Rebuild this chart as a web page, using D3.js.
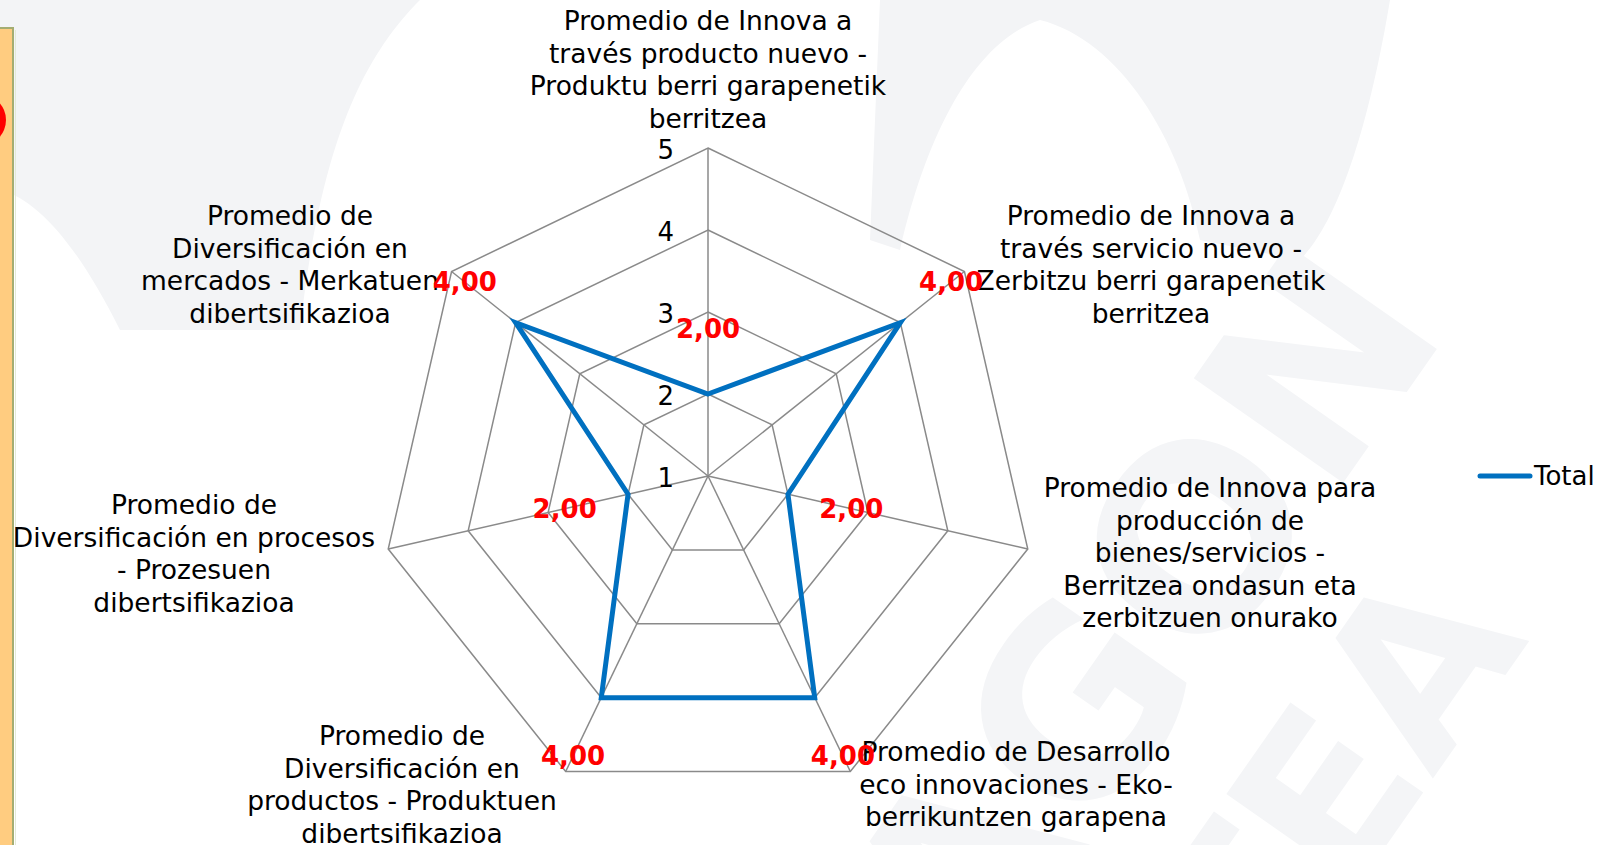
<!DOCTYPE html>
<html>
<head>
<meta charset="utf-8">
<script src="https://cdn.jsdelivr.net/npm/d3@7"></script>
<style>
  html, body { margin: 0; padding: 0; background: #fff; overflow: hidden; }
  svg { display: block; font-family: "DejaVu Sans", Verdana, sans-serif; }
</style>
</head>
<body>
<svg id="chart" width="1618" height="845"></svg>
<script>
/************************* Data *************************/
const categories = [
  ["Promedio de Innova a", "través producto nuevo -", "Produktu berri garapenetik", "berritzea"],
  ["Promedio de Innova a", "través servicio nuevo -", "Zerbitzu berri garapenetik", "berritzea"],
  ["Promedio de Innova para", "producción de", "bienes/servicios -", "Berritzea ondasun eta", "zerbitzuen onurako"],
  ["Promedio de Desarrollo", "eco innovaciones - Eko-", "berrikuntzen garapena"],
  ["Promedio de", "Diversificación en", "productos - Produktuen", "dibertsifikazioa"],
  ["Promedio de", "Diversificación en procesos", "- Prozesuen", "dibertsifikazioa"],
  ["Promedio de", "Diversificación en", "mercados - Merkatuen", "dibertsifikazioa"]
];
const totalValues = [2, 4, 2, 4, 4, 2, 4];
const tickValues = [1, 2, 3, 4, 5];
const seriesName = "Total";

/************************* Layout *************************/
const W = 1618, H = 845;
const CX = 708, CY = 476, R = 328;
const BLUE = "#0070C0";
const GRID = "#8a8a8a";
// centre of the first line of each category label (Excel places them by hand)
const labelAnchors = [
  [708, 20], [1151, 215], [1210, 487], [1016, 751],
  [402, 735], [194, 504], [290, 215]
];
const LINE_H = 32.5;

const svg = d3.select("#chart");
const n = categories.length;
const angle = d3.scaleLinear().domain([0, n]).range([0, 2 * Math.PI]);
const radius = d3.scaleLinear().domain([1, 5]).range([0, R]);

function point(i, r) {
  const a = angle(i);
  return [CX + r * Math.sin(a), CY - r * Math.cos(a)];
}

/************************* Watermark *************************/
const wm = svg.append("g").attr("fill", "#f3f4f6");
wm.append("path")
  .attr("d", "M0,0 H420 C360,60 320,150 300,330 L120,330 C80,250 40,200 0,190 Z");
wm.append("path")
  .attr("d", "M880,0 H1390 C1370,120 1340,220 1300,260 L1200,240 C1180,140 1120,40 1040,20 C980,40 930,120 900,250 L870,240 Z");
wm.append("text")
  .attr("transform", "translate(1450,330) rotate(-55)")
  .attr("text-anchor", "end")
  .attr("font-size", 250).attr("font-weight", "bold")
  .attr("fill", "#f4f5f7")
  .text("MONDRAGON");
wm.append("text")
  .attr("transform", "translate(1530,640) rotate(-55)")
  .attr("text-anchor", "end")
  .attr("font-size", 220).attr("font-weight", "bold")
  .attr("fill", "#f4f5f7")
  .text("UNIBERTSITATEA");

/************************* Left strip *************************/
svg.append("rect")
  .attr("x", -3).attr("y", 28).attr("width", 16).attr("height", H)
  .attr("fill", "#ffcc80").attr("stroke", "#a4ad72").attr("stroke-width", 2);
svg.append("line")
  .attr("x1", 15.5).attr("x2", 15.5).attr("y1", 30).attr("y2", H)
  .attr("stroke", "#e4ead6").attr("stroke-width", 1);
svg.append("circle")
  .attr("cx", -20).attr("cy", 120).attr("r", 26)
  .attr("fill", "#ff0000");

/************************* Grid *************************/
const grid = svg.append("g")
  .attr("fill", "none")
  .attr("stroke", GRID)
  .attr("stroke-width", 1.5);

const ringLine = d3.line();
tickValues.filter(v => v > 1).forEach(v => {
  const pts = d3.range(n).map(i => point(i, radius(v)));
  grid.append("path").attr("d", ringLine(pts) + "Z");
});

d3.range(n).forEach(i => {
  const [x, y] = point(i, R);
  grid.append("line")
    .attr("x1", CX).attr("y1", CY)
    .attr("x2", x).attr("y2", y);
});

// tick labels along the first spoke
svg.append("g")
  .selectAll("text")
  .data(tickValues)
  .join("text")
    .attr("x", CX - 34)
    .attr("y", d => CY - radius(d) + 2)
    .attr("text-anchor", "end")
    .attr("dominant-baseline", "central")
    .attr("font-size", 26)
    .attr("fill", "#000")
    .text(d => d);

/************************* Category labels *************************/
const labels = svg.append("g")
  .attr("font-size", 26.5)
  .attr("fill", "#000")
  .attr("text-anchor", "middle");

categories.forEach((lines, i) => {
  const [x, y] = labelAnchors[i];
  const t = labels.append("text")
    .attr("x", x).attr("y", y)
    .attr("dominant-baseline", "central");
  lines.forEach((s, k) => {
    t.append("tspan")
      .attr("x", x)
      .attr("y", y + k * LINE_H)
      .text(s);
  });
});

/************************* Series *************************/
const seriesPts = totalValues.map((v, i) => point(i, radius(v)));
svg.append("path")
  .attr("d", d3.line()(seriesPts) + "Z")
  .attr("fill", "none")
  .attr("stroke", BLUE)
  .attr("stroke-width", 5)
  .attr("stroke-linejoin", "miter");

// data labels, sitting a bit outside each point
svg.append("g")
  .selectAll("text")
  .data(totalValues)
  .join("text")
    .attr("x", (d, i) => point(i, radius(d) + 65)[0])
    .attr("y", (d, i) => point(i, radius(d) + 65)[1])
    .attr("text-anchor", "middle")
    .attr("dominant-baseline", "central")
    .attr("font-size", 26)
    .attr("font-weight", "bold")
    .attr("fill", "#ff0000")
    .text(d => d3.format(".2f")(d).replace(".", ","));

/************************* Legend *************************/
const legend = svg.append("g").attr("transform", "translate(1478,476)");
legend.append("line")
  .attr("x1", 2).attr("x2", 52).attr("y1", 0).attr("y2", 0)
  .attr("stroke", BLUE).attr("stroke-width", 5)
  .attr("stroke-linecap", "round");
legend.append("text")
  .attr("x", 56).attr("y", 0)
  .attr("dominant-baseline", "central")
  .attr("font-size", 26)
  .attr("fill", "#000")
  .text(seriesName);
</script>
</body>
</html>
